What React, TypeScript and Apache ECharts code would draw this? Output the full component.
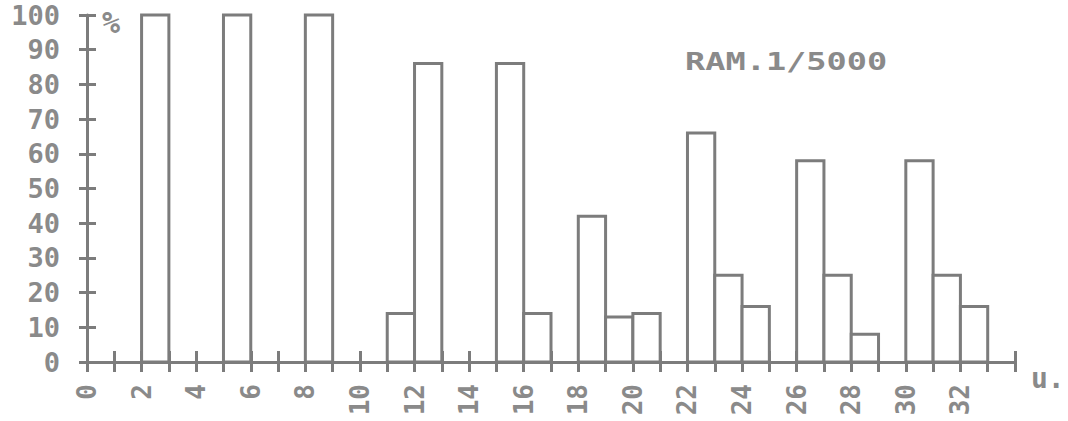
import React, { useEffect, useRef } from "react";
import * as echarts from "echarts";

// x positions (left edge of each bar, in axis units) and bar heights (%)
const barSlots = [2, 5, 8, 11, 12, 15, 16, 18, 19, 20, 22, 23, 24, 26, 27, 28, 30, 31, 32];
const barValues = [100, 100, 100, 14, 86, 86, 14, 42, 13, 14, 66, 25, 16, 58, 25, 8, 58, 25, 16];

const xTickLabels = ["0", "2", "4", "6", "8", "10", "12", "14", "16", "18", "20", "22", "24", "26", "28", "30", "32"];
const yTickLabels = ["0", "10", "20", "30", "40", "50", "60", "70", "80", "90", "100"];

const titleText = "RAM.1/5000";
const yUnit = "%";
const xUnit = "u.";

const INK = "#7c7c7c";
const TEXT = "#8a8a8a";
const FONT = "DejaVu Sans Mono";

export default function App() {
  const ref = useRef<HTMLDivElement>(null);
  useEffect(() => {
    if (!ref.current) return;
    const chart = echarts.init(ref.current, undefined, { renderer: "svg" });
    const data = barSlots.map((s, i) => [s, barValues[i]]);
    chart.setOption({
      animation: false,
      backgroundColor: "#ffffff",
      grid: { left: 87, right: 53, top: 15, bottom: 59 },
      xAxis: [
        {
          type: "value",
          min: 0,
          max: 34,
          interval: 1,
          position: "bottom",
          axisLine: { show: true, lineStyle: { color: INK, width: 3 } },
          axisTick: { show: true, inside: false, length: 10, lineStyle: { color: INK, width: 3 } },
          splitLine: { show: false },
          axisLabel: {
            show: true,
            rotate: 90,
            margin: 22,
            color: TEXT,
            fontFamily: FONT,
            fontWeight: "bold",
            fontSize: 26,
            formatter: (v: number) => {
              const i = v / 2;
              return Number.isInteger(i) && i < xTickLabels.length ? xTickLabels[i] : "";
            },
          },
        },
        {
          type: "value",
          min: 0,
          max: 34,
          interval: 1,
          position: "bottom",
          offset: 0,
          axisLine: { show: false },
          axisTick: { show: true, inside: true, length: 11, lineStyle: { color: INK, width: 3 } },
          splitLine: { show: false },
          axisLabel: { show: false },
        },
      ],
      yAxis: [
        {
          type: "value",
          min: 0,
          max: 100,
          interval: 10,
          position: "left",
          axisLine: { show: true, lineStyle: { color: INK, width: 3 } },
          axisTick: { show: true, inside: false, length: 8, lineStyle: { color: INK, width: 3 } },
          splitLine: { show: false },
          axisLabel: {
            show: true,
            margin: 27,
            color: TEXT,
            fontFamily: FONT,
            fontWeight: "bold",
            fontSize: 27,
            formatter: (v: number) => yTickLabels[Math.round(v / 10)] ?? "",
          },
        },
        {
          type: "value",
          min: 0,
          max: 100,
          interval: 10,
          position: "left",
          offset: 0,
          axisLine: { show: false },
          axisTick: { show: true, inside: true, length: 9, lineStyle: { color: INK, width: 3 } },
          splitLine: { show: false },
          axisLabel: { show: false },
        },
      ],
      series: [
        {
          type: "custom",
          xAxisIndex: 0,
          yAxisIndex: 0,
          data,
          renderItem: (params: any, api: any) => {
            const slot = api.value(0);
            const v = api.value(1);
            const p0 = api.coord([slot, v]);
            const p1 = api.coord([slot + 1, 0]);
            return {
              type: "rect",
              shape: { x: p0[0], y: p0[1], width: p1[0] - p0[0], height: p1[1] - p0[1] },
              style: { fill: "#ffffff", stroke: INK, lineWidth: 3 },
            };
          },
        },
      ],
      graphic: [
        {
          type: "text",
          x: 685,
          y: 50,
          scaleX: 1.4,
          style: {
            text: titleText,
            fill: TEXT,
            font: `bold 24px '${FONT}'`,
            textVerticalAlign: "top",
          },
        },
        {
          type: "text",
          x: 102,
          y: 7,
          style: { text: yUnit, fill: TEXT, font: `bold 30px '${FONT}'` },
        },
        {
          type: "text",
          x: 1031,
          y: 364,
          style: { text: xUnit, fill: TEXT, font: `bold 28px '${FONT}'` },
        },
      ],
    });
    return () => chart.dispose();
  }, []);
  return (
    <div
      ref={ref}
      style={{ position: "fixed", left: 0, top: 0, width: 1068, height: 421 }}
    />
  );
}
